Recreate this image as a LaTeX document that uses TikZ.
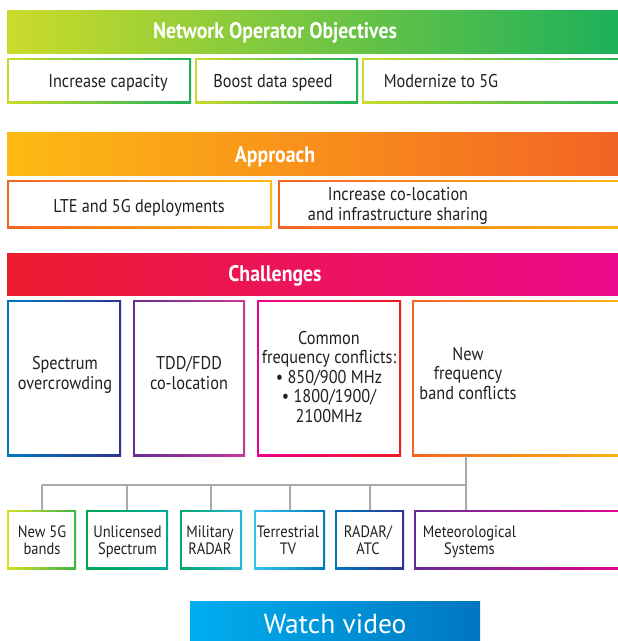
\documentclass[tikz,border=0pt]{standalone}
\usepackage{fontspec}
\setmainfont[FakeStretch=0.88]{PT Sans}
\newfontfamily\vidfont{PT Sans}
\definecolor{gA}{HTML}{CBDB2A}
\definecolor{gB}{HTML}{1DB15A}
\definecolor{oA}{HTML}{FDBB13}
\definecolor{oB}{HTML}{F26424}
\definecolor{rA}{HTML}{ED1C2E}
\definecolor{rB}{HTML}{EB0A8C}
\definecolor{vA}{HTML}{00AEEF}
\definecolor{vB}{HTML}{0077C0}
\definecolor{blueA}{HTML}{0079C1}
\definecolor{navy}{HTML}{2E3192}
\definecolor{purp}{HTML}{662D91}
\definecolor{pink}{HTML}{C4399B}
\definecolor{mag}{HTML}{EC008C}
\definecolor{red}{HTML}{ED1C24}
\definecolor{orng}{HTML}{F26522}
\definecolor{yel}{HTML}{FDB913}
\definecolor{lime}{HTML}{D7DF23}
\definecolor{grn}{HTML}{39B54A}
\definecolor{grn2}{HTML}{00A651}
\definecolor{teal}{HTML}{00A99D}
\definecolor{grn3}{HTML}{00A86B}
\definecolor{cyanA}{HTML}{2BB5D8}
\definecolor{cyanB}{HTML}{35C5F0}
\definecolor{textgray}{HTML}{231F20}
\definecolor{linegray}{HTML}{A7A9AC}
\begin{document}
\begin{tikzpicture}[x=1pt,y=-1pt,
  gb/.style 2 args={left color=#1,right color=#2,draw=none,inner sep=0pt,outer sep=0pt,anchor=north west,
    path picture={\fill[white] ([xshift=2pt,yshift=-2pt]path picture bounding box.north west) rectangle ([xshift=-2pt,yshift=2pt]path picture bounding box.south east);}},
  banner/.style 2 args={left color=#1,right color=#2,draw=none,inner sep=0pt,outer sep=0pt,anchor=north west},
  btxt/.style={text=white,anchor=base,inner sep=0pt,font=\fontsize{22.5}{24}\selectfont\bfseries},
  txt/.style={align=center,anchor=base,inner sep=0pt,text=textgray,font=\fontsize{18.5}{19.5}\selectfont},
  stxt/.style={align=center,anchor=base,inner sep=0pt,text=textgray,font=\fontsize{16.5}{16.7}\selectfont},
  conn/.style={draw=linegray,line width=2pt}]
\clip (0,0) rectangle (618,641);
\fill[white] (0,0) rectangle (618,641);
% Objectives
\node[banner={gA}{gB},minimum width=611pt,minimum height=43pt] (ban1) at (7,10) {};
\node[btxt] (ban1t) at (275,38.5) {Network Operator Objectives};
\node[gb={gA}{gB},minimum width=184pt,minimum height=45pt] (o1) at (7,58) {};
\node[gb={gA}{gB},minimum width=163pt,minimum height=45pt] (o2) at (195,58) {};
\node[gb={gA}{gB},minimum width=278pt,minimum height=45pt] (o3) at (362,58) {};
\node[txt] (o1t) at (108,87) {Increase capacity};
\node[txt] (o2t) at (273,87) {Boost data speed};
\node[txt] (o3t) at (441,87) {Modernize to 5G};
% Approach
\node[banner={oA}{oB},minimum width=611pt,minimum height=43pt] (ban2) at (7,132) {};
\node[btxt] (ban2t) at (275,162.7) {Approach};
\node[gb={oB}{oA},minimum width=265pt,minimum height=48pt] (a1) at (7,180) {};
\node[gb={oB}{oA},minimum width=362pt,minimum height=48pt] (a2) at (278,180) {};
\node[txt] (a1t) at (139,212) {LTE and 5G deployments};
\node[txt] (a2t) at (398,220) {Increase co-location\\and infrastructure sharing};
% Challenges
\node[banner={rA}{rB},minimum width=611pt,minimum height=42pt] (ban3) at (7,253) {};
\node[btxt] (ban3t) at (275,281.7) {Challenges};
\node[gb={blueA}{navy},minimum width=114pt,minimum height=156pt] (c1) at (7,300) {};
\node[gb={purp}{pink},minimum width=112pt,minimum height=156pt] (c2) at (133,300) {};
\node[gb={mag}{red},minimum width=144pt,minimum height=156pt] (c3) at (257,300) {};
\node[gb={orng}{yel},minimum width=228pt,minimum height=156pt] (c4) at (412,300) {};
\node[txt] (c1t) at (65,389) {Spectrum\\overcrowding};
\node[txt] (c2t) at (189,389) {TDD/FDD\\co-location};
\node[txt] (c3t) at (329,422) {Common\\frequency conflicts:\\\textbullet\ 850/900 MHz\\\textbullet\ 1800/1900/\\2100MHz};
\node[txt] (c4t) at (468,399) {New\\frequency\\band conflicts};
% Bottom boxes
\node[gb={lime}{grn},minimum width=69pt,minimum height=59pt] (b1) at (7,510) {};
\node[gb={grn2}{teal},minimum width=82pt,minimum height=59pt] (b2) at (86,510) {};
\node[gb={grn3}{cyanA},minimum width=62pt,minimum height=59pt] (b3) at (180,510) {};
\node[gb={cyanB}{blueA},minimum width=71pt,minimum height=59pt] (b4) at (254,510) {};
\node[gb={blueA}{navy},minimum width=69pt,minimum height=59pt] (b5) at (335,510) {};
\node[gb={purp}{mag},minimum width=226pt,minimum height=59pt] (b6) at (414,510) {};
\node[stxt] (b1t) at (42,554.3) {New 5G\\bands};
\node[stxt] (b2t) at (127.5,554.3) {Unlicensed\\Spectrum};
\node[stxt] (b3t) at (210,554.3) {Military\\RADAR};
\node[stxt] (b4t) at (288,554.3) {Terrestrial\\TV};
\node[stxt] (b5t) at (368,554.3) {RADAR/\\ATC};
\node[stxt] (b6t) at (469.5,554.3) {Meteorological\\Systems};
% connectors
\coordinate (j) at (466,485);
\draw[conn] (c4.south -| j) -- (j |- b6.north);
\draw[conn] (b1.north |- j) -- (j);
\draw[conn] (b1.north |- j) -- (b1.north);
\draw[conn] (b2.north |- j) -- (b2.north);
\draw[conn] (b3.north |- j) -- (b3.north);
\draw[conn] (b4.north |- j) -- (b4.north);
\draw[conn] (b5.north |- j) -- (b5.north);
% Watch video
\node[banner={vA}{vB},minimum width=290pt,minimum height=44pt] (vid) at (190,601) {};
\node[inner sep=0pt,anchor=base,text=white,font=\vidfont\fontsize{27.5}{30}\selectfont] (vidt) at (335,633) {Watch video};
\end{tikzpicture}
\end{document}
